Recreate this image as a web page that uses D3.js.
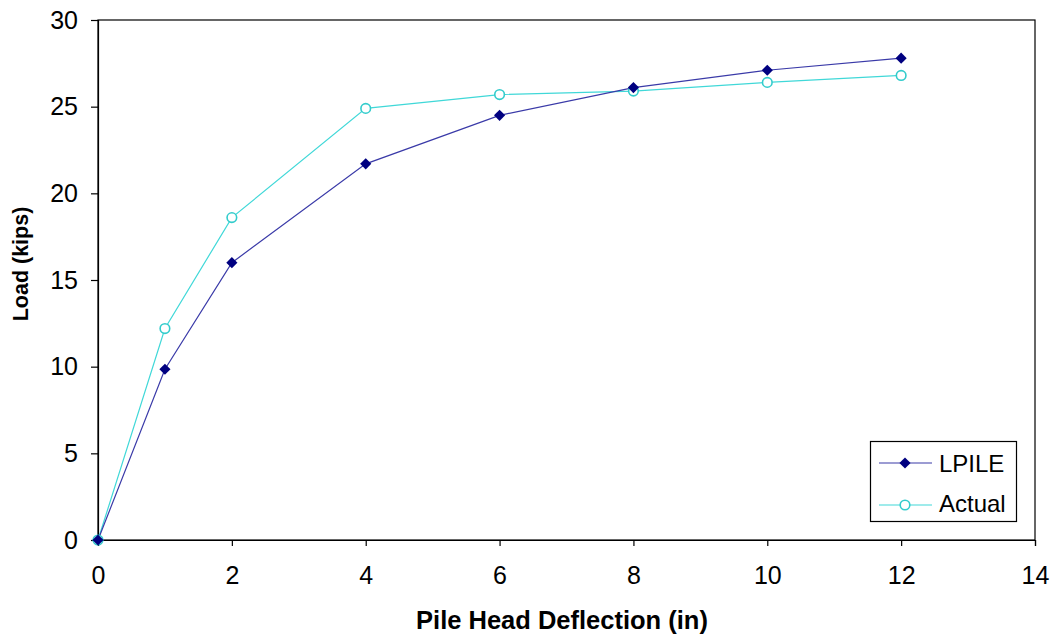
<!DOCTYPE html>
<html><head><meta charset="utf-8">
<script src="https://cdn.jsdelivr.net/npm/d3@7"></script>
<style>body{margin:0;background:#fff}svg{display:block;font-family:"Liberation Sans",Arial,sans-serif}</style>
</head><body>
<svg id="c" width="1052" height="639"></svg>
<script>
const deflection = [0, 1, 2, 4, 6, 8, 10, 12];
const lpile = [0, 9.85, 16.0, 21.7, 24.5, 26.1, 27.1, 27.8];
const actual = [0, 12.2, 18.6, 24.9, 25.7, 25.9, 26.4, 26.8];
const xTicks = [0, 2, 4, 6, 8, 10, 12, 14];
const yTicks = [0, 5, 10, 15, 20, 25, 30];
const seriesNames = ["LPILE", "Actual"];

const svg = d3.select("#c");
const L = 98, R = 1035, T = 20, B = 540;
const x = d3.scaleLinear().domain([0, 14]).range([L, R]);
const y = d3.scaleLinear().domain([0, 30]).range([B, T]);

// frame
svg.append("rect").attr("x", L).attr("y", T).attr("width", R - L).attr("height", B - T)
  .attr("fill", "none").attr("stroke", "#000").attr("stroke-width", 1.2);

const xa = svg.append("g").attr("transform", `translate(0,${B})`)
  .call(d3.axisBottom(x).tickValues(xTicks).tickSize(6).tickPadding(20).tickFormat(d3.format("d")));
const ya = svg.append("g").attr("transform", `translate(${L},0)`)
  .call(d3.axisLeft(y).tickValues(yTicks).tickSize(7).tickPadding(13).tickFormat(d3.format("d")));
[xa, ya].forEach(g => {
  g.select(".domain").attr("stroke", "#000").attr("stroke-width", 1.2);
  g.selectAll(".tick line").attr("stroke", "#000").attr("stroke-width", 1.2);
  g.selectAll("text").attr("font-size", 25).attr("fill", "#000").attr("font-family", "Liberation Sans, Arial, sans-serif");
});

svg.append("text").attr("x", 562).attr("y", 629).attr("text-anchor", "middle")
  .attr("font-size", 25.5).attr("font-weight", "bold").text("Pile Head Deflection (in)");
svg.append("text").attr("transform", `translate(28,264) rotate(-90)`).attr("text-anchor", "middle")
  .attr("font-size", 21.5).attr("font-weight", "bold").text("Load (kips)");

const line = d3.line().x((d, i) => x(deflection[i])).y(d => y(d));
const lineColors = ["#3a3aa8", "#40d8d8"];

// Actual
svg.append("path").datum(actual).attr("d", line).attr("fill", "none").attr("stroke", lineColors[1]).attr("stroke-width", 1.2);
// LPILE
svg.append("path").datum(lpile).attr("d", line).attr("fill", "none").attr("stroke", lineColors[0]).attr("stroke-width", 1.2);

const diamond = d3.symbol().type(d3.symbolSquare).size(62);
function drawDiamond(g, cx, cy) {
  g.append("path").attr("d", diamond()).attr("transform", `translate(${cx},${cy}) rotate(45)`).attr("fill", "#000080");
}
function drawCircle(g, cx, cy) {
  g.append("circle").attr("cx", cx).attr("cy", cy).attr("r", 4.8).attr("fill", "#fff").attr("stroke", "#33cccc").attr("stroke-width", 1.6);
}
const mk = svg.append("g");
actual.forEach((v, i) => drawCircle(mk, x(deflection[i]), y(v)));
lpile.forEach((v, i) => drawDiamond(mk, x(deflection[i]), y(v)));

// legend
const lg = svg.append("g");
lg.append("rect").attr("x", 870.5).attr("y", 441.5).attr("width", 146).attr("height", 80)
  .attr("fill", "#fff").attr("stroke", "#000").attr("stroke-width", 1.2);
const ly = [463, 505];
const lbase = [472, 512];
seriesNames.forEach((n, i) => {
  lg.append("line").attr("x1", 879).attr("x2", 932).attr("y1", ly[i]).attr("y2", ly[i])
    .attr("stroke", lineColors[i]).attr("stroke-width", 1.2);
  if (i === 0) drawDiamond(lg, 905, ly[i]); else drawCircle(lg, 905, ly[i]);
  lg.append("text").attr("x", 939).attr("y", lbase[i]).attr("font-size", 24).text(n);
});
</script>
</body></html>
